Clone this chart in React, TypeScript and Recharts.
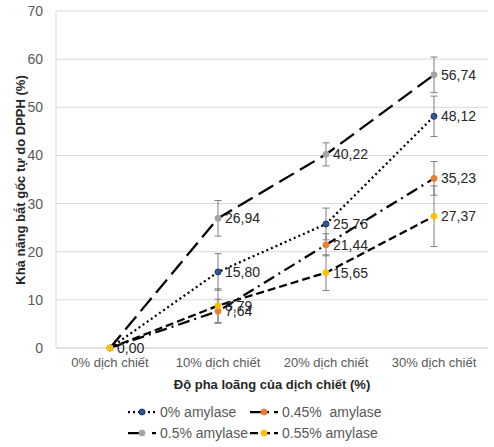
import { LineChart, Line, XAxis, YAxis, CartesianGrid, ErrorBar, LabelList } from 'recharts';

const categories = ['0% dịch chiết', '10% dịch chiết', '20% dịch chiết', '30% dịch chiết'];

const amylase0 = [0, 15.8, 25.76, 48.12];
const amylase0Err = [null, 3.8, 3.3, 4.2];
const amylase045 = [0, 7.64, 21.44, 35.23];
const amylase045Err = [null, 2.5, 2.3, 3.5];
const amylase05 = [0, 26.94, 40.22, 56.74];
const amylase05Err = [null, 3.7, 2.4, 3.7];
const amylase055 = [0, 8.79, 15.65, 27.37];
const amylase055Err = [null, 3.5, 3.7, 6.3];

const yTicks = [0, 10, 20, 30, 40, 50, 60, 70];

const SERIES = [
  { key: 's0', err: 'e0', name: '0% amylase', fill: '#2F5597', stroke: '#1F3864', dash: '2 3', showZero: false },
  { key: 's045', err: 'e045', name: '0.45%  amylase', fill: '#ED7D31', stroke: '#ED7D31', dash: '12 5 2 5', showZero: false },
  { key: 's05', err: 'e05', name: '0.5% amylase', fill: '#A5A5A5', stroke: '#A5A5A5', dash: '17 7', showZero: false },
  { key: 's055', err: 'e055', name: '0.55% amylase', fill: '#FFC000', stroke: '#FFC000', dash: '8 4', showZero: true },
];

const data = categories.map((c, i) => ({
  name: c,
  s0: amylase0[i], e0: amylase0Err[i],
  s045: amylase045[i], e045: amylase045Err[i],
  s05: amylase05[i], e05: amylase05Err[i],
  s055: amylase055[i], e055: amylase055Err[i],
}));

const FONT = '"Liberation Sans", Arial, sans-serif';
const fmt = (v: number) => v.toFixed(2).replace('.', ',');

function LegendIcon({ s }: { s: typeof SERIES[number] }) {
  return (
    <svg width={28} height={10} style={{ marginRight: 4 }}>
      <line x1={0} y1={5} x2={28} y2={5} stroke="#000" strokeWidth={2.25} strokeDasharray={s.dash} />
      <circle cx={14} cy={5} r={3} fill={s.fill} stroke={s.stroke} strokeWidth={1} />
    </svg>
  );
}

export default function App() {
  return (
    <div style={{ position: 'absolute', left: 0, top: 0, width: 494, height: 447, background: '#fff', fontFamily: FONT }}>
      <LineChart width={494} height={395} data={data} margin={{ top: 11, right: 6, left: 0, bottom: 0 }}>
        <CartesianGrid vertical={false} stroke="#D9D9D9" />
        <XAxis
          dataKey="name"
          padding={{ left: 54, right: 54 }}
          axisLine={{ stroke: '#D9D9D9' }}
          tickLine={false}
          height={47}
          tick={{ fill: '#595959', fontSize: 13 }}
          tickMargin={4}
          label={{ value: 'Độ pha loãng của dịch chiết (%)', position: 'insideBottom', offset: 6, fill: '#262626', fontSize: 13, fontWeight: 'bold' }}
        />
        <YAxis
          domain={[0, 70]}
          ticks={yTicks}
          width={56}
          axisLine={{ stroke: '#D9D9D9' }}
          tickLine={false}
          tickMargin={7}
          tick={{ fill: '#595959', fontSize: 14 }}
          label={{
            content: () => (
              <text x={20} y={180} transform="rotate(-90 20 180)" textAnchor="middle" dominantBaseline="central" fill="#262626" fontSize={13} fontWeight="bold" fontFamily={FONT}>
                Khả năng bắt gốc tự do DPPH (%)
              </text>
            ),
          }}
        />
        {SERIES.map((s) => (
          <Line
            key={s.key}
            dataKey={s.key}
            name={s.name}
            stroke="#000"
            strokeWidth={2.25}
            strokeDasharray={s.dash}
            isAnimationActive={false}
            dot={(p: any) => (
              <circle key={`${s.key}-${p.index}`} cx={p.cx} cy={p.cy} r={3} fill={s.fill} stroke={s.stroke} strokeWidth={1} />
            )}
            activeDot={false}
          >
            <ErrorBar dataKey={s.err} width={3.5} stroke="#7F7F7F" strokeWidth={1} direction="y" />
            <LabelList
              dataKey={s.key}
              position="right"
              offset={7}
              fill="#262626"
              fontSize={14}
              formatter={(v: any) => (v === 0 && !s.showZero ? '' : fmt(Number(v)))}
            />
          </Line>
        ))}
      </LineChart>
      <div style={{ position: 'absolute', left: 128, top: 401, fontSize: 14, color: '#595959' }}>
        {[0, 1].map((row) => (
          <div key={row} style={{ display: 'flex', height: 21, alignItems: 'center' }}>
            {SERIES.slice(row * 2, row * 2 + 2).map((s, j) => (
              <div key={s.key} style={{ display: 'flex', alignItems: 'center', width: j === 0 ? 122 : 140 }}>
                <LegendIcon s={s} />
                <span style={{ whiteSpace: 'pre' }}>{s.name}</span>
              </div>
            ))}
          </div>
        ))}
      </div>
    </div>
  );
}
